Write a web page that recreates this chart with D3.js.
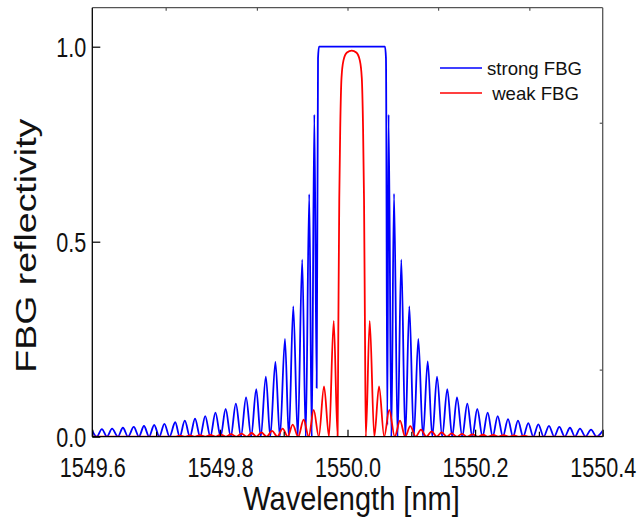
<!DOCTYPE html>
<html>
<head>
<meta charset="utf-8">
<script src="https://cdn.jsdelivr.net/npm/d3@7"></script>
<style>
  body { margin: 0; background: #fff; }
  svg text { font-family: "Liberation Sans", Arial, sans-serif !important; font-weight: normal; fill: #111; }
</style>
</head>
<body>
<script>
// ---- data: [wavelength nm, reflectivity] at peaks and dips ----
const strongFBG = [
  [1549.600, 0.015], [1549.607, 0], [1549.615, 0.0195], [1549.623, 0], [1549.631, 0.0205], [1549.640, 0],
  [1549.648, 0.023], [1549.656, 0], [1549.665, 0.025], [1549.673, 0], [1549.681, 0.0274], [1549.689, 0],
  [1549.697, 0.030], [1549.705, 0], [1549.713, 0.033], [1549.721, 0], [1549.730, 0.037], [1549.737, 0],
  [1549.745, 0.041], [1549.753, 0], [1549.761, 0.046], [1549.769, 0], [1549.777, 0.053], [1549.785, 0],
  [1549.793, 0.0615], [1549.801, 0], [1549.809, 0.071], [1549.817, 0], [1549.825, 0.085], [1549.833, 0],
  [1549.841, 0.101], [1549.849, 0], [1549.857, 0.122], [1549.864, 0], [1549.872, 0.154], [1549.879, 0],
  [1549.887, 0.192], [1549.894, 0], [1549.902, 0.251], [1549.908, 0], [1549.915, 0.334], [1549.922, 0],
  [1549.929, 0.454], [1549.9345, 0], [1549.940, 0.622], [1549.944, 0], [1549.948, 0.826], [1549.9517, 0.125],
  [1549.9538, 0.97], [1549.9553, 1.0], [1550.0588, 1.0], [1550.0603, 0.97], [1550.0624, 0.03], [1550.0644, 0.826],
  [1550.0687, 0], [1550.0729, 0.623], [1550.0785, 0], [1550.0843, 0.454], [1550.0906, 0], [1550.0969, 0.334],
  [1550.1039, 0], [1550.1110, 0.251], [1550.1183, 0], [1550.1257, 0.193], [1550.1329, 0], [1550.1403, 0.154],
  [1550.1484, 0], [1550.1564, 0.122], [1550.1641, 0], [1550.1716, 0.101], [1550.1798, 0], [1550.1878, 0.085],
  [1550.1956, 0], [1550.2034, 0.071], [1550.2116, 0], [1550.2197, 0.0615], [1550.2276, 0], [1550.2354, 0.053],
  [1550.2436, 0], [1550.2516, 0.045], [1550.2594, 0], [1550.2672, 0.041], [1550.2754, 0], [1550.2834, 0.035],
  [1550.2912, 0], [1550.2991, 0.0316], [1550.3075, 0], [1550.3158, 0.028], [1550.3240, 0], [1550.3320, 0.025],
  [1550.3404, 0], [1550.3487, 0.023], [1550.3566, 0], [1550.3644, 0.0205], [1550.3730, 0], [1550.3817, 0.018],
  [1550.3903, 0], [1550.400, 0.015]
];

const weakFBG = [
  [1549.600, 0], [1549.730, 0], [1549.7375, 0.003], [1549.7453, 0], [1549.7531, 0.0035], [1549.761, 0],
  [1549.7688, 0.004], [1549.7771, 0], [1549.7853, 0.0045], [1549.7933, 0], [1549.8013, 0.0055], [1549.8094, 0],
  [1549.8174, 0.0065], [1549.8257, 0], [1549.8339, 0.008], [1549.8419, 0], [1549.8498, 0.0095], [1549.8574, 0],
  [1549.8649, 0.011], [1549.8734, 0], [1549.8817, 0.015], [1549.890, 0], [1549.8984, 0.0205], [1549.9063, 0],
  [1549.9141, 0.031], [1549.9227, 0], [1549.9313, 0.0436], [1549.9392, 0], [1549.947, 0.069], [1549.955, 0],
  [1549.9632, 0.129], [1549.971, 0], [1549.9784, 0.297], [1549.9845, 0], [1549.9856, 0.27], [1549.9871, 0.61],
  [1549.9887, 0.80], [1549.9906, 0.92], [1549.9937, 0.965], [1549.9992, 0.985], [1550.0066, 0.99], [1550.0138, 0.985],
  [1550.0193, 0.965], [1550.0224, 0.92], [1550.0243, 0.80], [1550.0259, 0.61], [1550.0274, 0.27], [1550.0287, 0],
  [1550.0348, 0.297], [1550.042, 0], [1550.0494, 0.129], [1550.0575, 0], [1550.0655, 0.069], [1550.074, 0],
  [1550.0823, 0.041], [1550.0904, 0], [1550.0984, 0.027], [1550.1069, 0], [1550.1152, 0.018], [1550.1235, 0],
  [1550.132, 0.0136], [1550.1398, 0], [1550.1476, 0.011], [1550.1555, 0], [1550.1633, 0.0085], [1550.1713, 0],
  [1550.1795, 0.007], [1550.1876, 0], [1550.1959, 0.006], [1550.2041, 0], [1550.2124, 0.005], [1550.2204, 0],
  [1550.2285, 0.0045], [1550.2365, 0], [1550.2445, 0.004], [1550.2527, 0], [1550.261, 0.0035], [1550.2688, 0],
  [1550.2767, 0.003], [1550.2845, 0], [1550.400, 0]
];

const seriesNames = ["strong FBG", " weak FBG"];
const seriesColors = ["#0000ff", "#ff0000"];

const xMajorTicks = [1549.6, 1549.8, 1550.0, 1550.2, 1550.4];
const xMinorTicks = [1549.7, 1549.9, 1550.1, 1550.3];
const yTicks = [0.0, 0.5, 1.0];
const topTicks = [1549.715, 1549.858, 1550.0, 1550.142, 1550.285];
const rightTicks = [0.172, 0.805];

// ---- layout ----
const margin = { top: 7.7, right: 36.3, bottom: 85.3, left: 92.3 };
const width = 639 - margin.left - margin.right;
const height = 522 - margin.top - margin.bottom;
const stretch = 1.25; // the reference text is drawn taller than wide

const x = d3.scaleLinear().domain([1549.6, 1550.4]).range([0, width]);
const y = d3.scaleLinear().domain([0, 1.1]).range([height, 0]);

const svg = d3.select("body").append("svg")
  .attr("width", 639)
  .attr("height", 522)
  .append("g")
  .attr("transform", "translate(" + margin.left + "," + margin.top + ")");

svg.append("clipPath").attr("id", "plot-clip")
  .append("rect").attr("x", 0).attr("y", 0).attr("width", width).attr("height", height);

// ---- curves ----
const line = d3.line()
  .x(d => x(d[0]))
  .y(d => y(d[1]))
  .curve(d3.curveMonotoneX);

svg.append("g").attr("clip-path", "url(#plot-clip)")
  .selectAll(".spectrum")
  .data([strongFBG, weakFBG])
  .enter().append("path")
  .attr("class", "spectrum")
  .attr("fill", "none")
  .attr("stroke", (d, i) => seriesColors[i])
  .attr("stroke-width", 1.8)
  .attr("stroke-linejoin", "round")
  .attr("d", line);

// ---- frame ----
svg.append("line").attr("x1", 0).attr("x2", width).attr("y1", 0).attr("y2", 0)
  .attr("stroke", "#555").attr("stroke-width", 1.3);
svg.append("line").attr("x1", width).attr("x2", width).attr("y1", 0).attr("y2", height)
  .attr("stroke", "#555").attr("stroke-width", 1.3);
svg.append("line").attr("x1", 0).attr("x2", 0).attr("y1", 0).attr("y2", height)
  .attr("stroke", "#000").attr("stroke-width", 1.3);
svg.append("line").attr("x1", 0).attr("x2", width).attr("y1", height).attr("y2", height)
  .attr("stroke", "#000").attr("stroke-width", 1.3);

// ---- axes (ticks drawn inward) ----
function tidy(g) {
  g.attr("font-family", null).attr("font-size", null);
  g.select(".domain").remove();
  g.selectAll(".tick line").attr("stroke", "#000").attr("stroke-width", 1.2);
}

// bottom major, labelled
svg.append("g")
  .attr("class", "x-axis")
  .attr("transform", "translate(0," + height + ")")
  .call(d3.axisBottom(x).tickValues(xMajorTicks).tickSizeInner(-7).tickSizeOuter(0).tickFormat(d3.format(".1f")))
  .call(tidy)
  .call(g => g.selectAll(".tick text")
    .attr("y", 0).attr("dy", 0)
    .attr("font-size", 21.6)
    .attr("transform", "translate(0,40) scale(1," + stretch + ")"));

// bottom minor
svg.append("g")
  .attr("transform", "translate(0," + height + ")")
  .call(d3.axisBottom(x).tickValues(xMinorTicks).tickSizeInner(-5).tickSizeOuter(0).tickFormat(""))
  .call(tidy);

// left
svg.append("g")
  .attr("class", "y-axis")
  .call(d3.axisLeft(y).tickValues(yTicks).tickSizeInner(-8).tickSizeOuter(0).tickFormat(d3.format(".1f")))
  .call(tidy)
  .call(g => g.selectAll(".tick text")
    .attr("x", 0).attr("dy", 0)
    .attr("font-size", 21.6)
    .attr("text-anchor", "end")
    .attr("transform", "translate(-6,9.5) scale(1," + stretch + ")"));

// top
svg.append("g")
  .call(d3.axisTop(x).tickValues(topTicks).tickSizeInner(-3).tickSizeOuter(0).tickFormat(""))
  .call(tidy)
  .call(g => g.selectAll(".tick line").attr("stroke", "#555"));

// right
svg.append("g")
  .attr("transform", "translate(" + width + ",0)")
  .call(d3.axisRight(y).tickValues(rightTicks).tickSizeInner(-3).tickSizeOuter(0).tickFormat(""))
  .call(tidy)
  .call(g => g.selectAll(".tick line").attr("stroke", "#555"));

// ---- axis titles ----
svg.append("text")
  .attr("text-anchor", "middle")
  .attr("font-size", 29)
  .attr("transform", "translate(" + (width / 2 + 4) + "," + (height + 73) + ") scale(1,1.15)")
  .text("Wavelength [nm]");

svg.append("text")
  .attr("text-anchor", "middle")
  .attr("font-size", 30)
  .attr("transform", "translate(" + (-margin.left + 36) + "," + (238) + ") scale(1," + stretch + ") rotate(-90)")
  .text("FBG reflectivity");

// ---- legend ----
const legend = svg.append("g")
  .attr("transform", "translate(" + (440 - margin.left) + "," + (68 - margin.top) + ")");

const item = legend.selectAll(".legend-item")
  .data(seriesNames)
  .enter().append("g")
  .attr("class", "legend-item")
  .attr("transform", (d, i) => "translate(0," + i * 25 + ")");

item.append("line")
  .attr("x1", 0).attr("x2", 42)
  .attr("stroke", (d, i) => seriesColors[i])
  .attr("stroke-width", 1.5);

item.append("text")
  .attr("x", 47)
  .attr("y", 6.5)
  .attr("font-size", 18.6)
  .attr("xml:space", "preserve")
  .style("white-space", "pre")
  .text(d => d);
</script>
</body>
</html>
